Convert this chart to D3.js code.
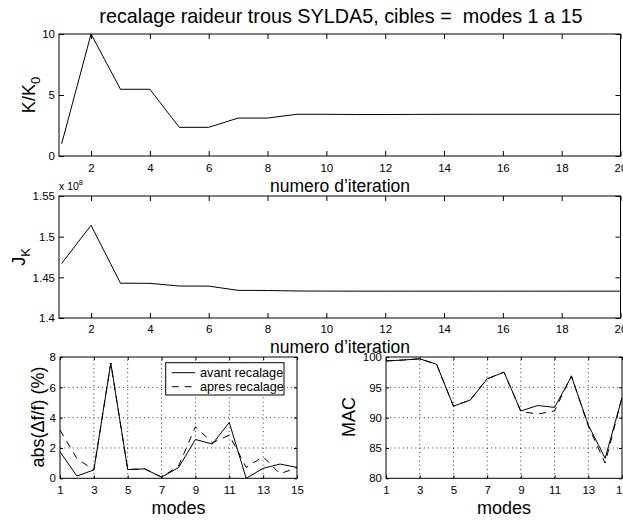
<!DOCTYPE html>
<html><head><meta charset="utf-8">
<script src="https://cdn.jsdelivr.net/npm/d3@7"></script>
<style>
html,body{margin:0;padding:0;background:#fff;}
svg{display:block;font-family:"Liberation Sans",Arial,Helvetica,sans-serif;}
</style></head>
<body>
<script>
// ---------- data ----------
const iterations = d3.range(1, 21);
const kRatio = [1.0, 10.0, 5.47, 5.47, 2.35, 2.35, 3.11, 3.11, 3.42, 3.42, 3.40, 3.40, 3.41, 3.42, 3.42, 3.42, 3.42, 3.42, 3.42, 3.42];
const jK = [1.467, 1.514, 1.4428, 1.4426, 1.4393, 1.4392, 1.4340, 1.4338, 1.4332, 1.4331, 1.4330, 1.4330, 1.4330, 1.4330, 1.4330, 1.4330, 1.4330, 1.4330, 1.4330, 1.4330];
const modes = d3.range(1, 16);
const dfAvant = [1.75, 0.15, 0.55, 7.6, 0.58, 0.62, 0.08, 0.70, 2.56, 2.26, 3.68, 0.0, 0.66, 0.94, 0.72];
const dfApres = [3.18, 1.30, 0.55, 7.6, 0.58, 0.62, 0.08, 0.80, 3.40, 2.35, 2.85, 0.72, 1.42, 0.30, 0.70];
const macAvant = [99.35, 99.5, 99.7, 98.8, 91.9, 92.9, 96.4, 97.5, 91.1, 92.0, 91.7, 96.8, 88.8, 83.3, 93.3];
const macApres = [99.35, 99.5, 99.7, 98.8, 91.9, 92.9, 96.4, 97.5, 91.0, 90.6, 91.1, 96.9, 88.6, 82.5, 93.3];
const iterTicks = [2, 4, 6, 8, 10, 12, 14, 16, 18, 20];
const kTicks = [0, 5, 10];
const jTicks = [1.4, 1.45, 1.5, 1.55];
const modeTicks = [1, 3, 5, 7, 9, 11, 13, 15];
const dfTicks = [0, 2, 4, 6, 8];
const macTicks = [80, 85, 90, 95, 100];
const legendLabels = ["avant recalage", "apres recalage"];
const titleText = "recalage raideur trous SYLDA5, cibles =  modes 1 a 15";

// ---------- drawing ----------
const W = 623, H = 520;
const svg = d3.select("body").append("svg").attr("width", W).attr("height", H);
svg.append("rect").attr("width", W).attr("height", H).attr("fill", "#fff");
const FONT_TICK = 11.5, FONT_LAB = 18;

function panel(opt) {
  const x = d3.scaleLinear().domain(opt.xd).range(opt.xr);
  const y = d3.scaleLinear().domain(opt.yd).range(opt.yr);
  const g = svg.append("g");
  // grid
  if (opt.grid) {
    g.selectAll(".gx").data(opt.xt.filter(v => v > opt.xd[0] && v < opt.xd[1])).join("line")
      .attr("x1", d => x(d)).attr("x2", d => x(d)).attr("y1", opt.yr[0]).attr("y2", opt.yr[1])
      .attr("stroke", "#000").attr("stroke-width", 0.8).attr("stroke-dasharray", "1,3.2");
    g.selectAll(".gy").data(opt.yt.filter(v => v > opt.yd[0] && v < opt.yd[1])).join("line")
      .attr("y1", d => y(d)).attr("y2", d => y(d)).attr("x1", opt.xr[0]).attr("x2", opt.xr[1])
      .attr("stroke", "#000").attr("stroke-width", 0.8).attr("stroke-dasharray", "1,3.2");
  }
  const tl = opt.tick || 5;
  const ax = (a, tr, ticks, fmt, pad) => {
    const s = g.append("g").attr("transform", tr)
      .call(a.tickValues(ticks).tickSize(-tl).tickPadding(pad).tickFormat(fmt));
    s.select(".domain").remove();
    s.selectAll("line").attr("stroke", "#000");
    s.selectAll("text").attr("font-size", FONT_TICK).attr("fill", "#000")
      .attr("font-family", "Liberation Sans,Arial,sans-serif");
    return s;
  };
  ax(d3.axisBottom(x), `translate(0,${opt.yr[0]})`, opt.xt, opt.xf || (d => d), opt.xpad || 8);
  const top = ax(d3.axisTop(x), `translate(0,${opt.yr[1]})`, opt.xt, "", 0);
  top.selectAll("text").remove();
  ax(d3.axisLeft(y), `translate(${opt.xr[0]},0)`, opt.yt, opt.yf || (d => d), 4);
  const right = ax(d3.axisRight(y), `translate(${opt.xr[1]},0)`, opt.yt, "", 0);
  right.selectAll("text").remove();
  // box
  g.append("rect").attr("x", opt.xr[0]).attr("y", opt.yr[1])
    .attr("width", opt.xr[1] - opt.xr[0]).attr("height", opt.yr[0] - opt.yr[1])
    .attr("fill", "none").attr("stroke", "#000").attr("stroke-width", 1);
  // series
  opt.series.forEach(s => {
    const line = d3.line().x((d, i) => x(s.x[i])).y(d => y(d));
    g.append("path").datum(s.y).attr("d", line).attr("fill", "none")
      .attr("stroke", "#000").attr("stroke-width", 1)
      .attr("stroke-dasharray", s.dash || null);
  });
  return {x, y, g};
}

const DASH = "7,6";
const itX = [59, 620.5];
panel({xd: [0.91, 20], xr: itX, yd: [0, 10], yr: [156, 34], xt: iterTicks, yt: kTicks, xpad: 8,
  series: [{x: iterations, y: kRatio}]});
panel({xd: [0.91, 20], xr: itX, yd: [1.4, 1.55], yr: [318, 196], xt: iterTicks, yt: jTicks, xpad: 7,
  yf: d3.format("~g"), series: [{x: iterations, y: jK}]});
panel({xd: [1, 15], xr: [60, 297], yd: [0, 8], yr: [478.3, 357], xt: modeTicks, yt: dfTicks, grid: true, tick: 3, xpad: 8,
  series: [{x: modes, y: dfAvant}, {x: modes, y: dfApres, dash: DASH}]});
panel({xd: [1, 15], xr: [386, 622], yd: [80, 100], yr: [478.3, 357], xt: modeTicks, yt: macTicks, grid: true, tick: 3, xpad: 8,
  series: [{x: modes, y: macAvant}, {x: modes, y: macApres, dash: DASH}]});

// texts
const txt = (x, y, s, size, anchor) => svg.append("text").attr("x", x).attr("y", y)
  .attr("font-size", size).attr("text-anchor", anchor || "middle").attr("fill", "#000")
  .style("white-space", "pre").text(s);
txt(341, 23, titleText, 19.8);
txt(340, 192, "numero d\u2019iteration", 17.5);
txt(340, 353, "numero d\u2019iteration", 17.5);
txt(178.5, 514, "modes", 18);
txt(504, 514, "modes", 18);

// x 10^8
const e8 = svg.append("text").attr("x", 59).attr("y", 190).attr("font-size", 10.5).attr("fill", "#000");
e8.append("tspan").text("x 10");
e8.append("tspan").attr("dy", -5).attr("font-size", 7.5).text("8");

// y labels
function ylab(x, y, parts) {
  const t = svg.append("text").attr("transform", `translate(${x},${y}) rotate(-90)`)
    .attr("text-anchor", "middle").attr("font-size", FONT_LAB).attr("fill", "#000");
  parts.forEach(p => {
    const ts = t.append("tspan").text(p.t);
    if (p.sub) ts.attr("font-size", 13).attr("dy", 5);
  });
}
ylab(35, 95, [{t: "K/K"}, {t: "0", sub: true}]);
ylab(25, 257, [{t: "J"}, {t: "K", sub: true}]);
ylab(44, 417, [{t: "abs(\u0394f/f) (%)"}]);
ylab(355, 417, [{t: "MAC"}]);

// legend
const lg = svg.append("g");
lg.append("rect").attr("x", 165.7).attr("y", 362.7).attr("width", 118.3).attr("height", 32.3)
  .attr("fill", "#fff").attr("stroke", "#000").attr("stroke-width", 1);
legendLabels.forEach((lab, i) => {
  const yy = 372.7 + i * 14;
  lg.append("line").attr("x1", 171.7).attr("x2", 195).attr("y1", yy).attr("y2", yy)
    .attr("stroke", "#000").attr("stroke-width", 1).attr("stroke-dasharray", i ? DASH : null);
  lg.append("text").attr("x", 200).attr("y", yy + 4.5).attr("font-size", 12.7).attr("fill", "#000").text(lab);
});
</script>
</body></html>
